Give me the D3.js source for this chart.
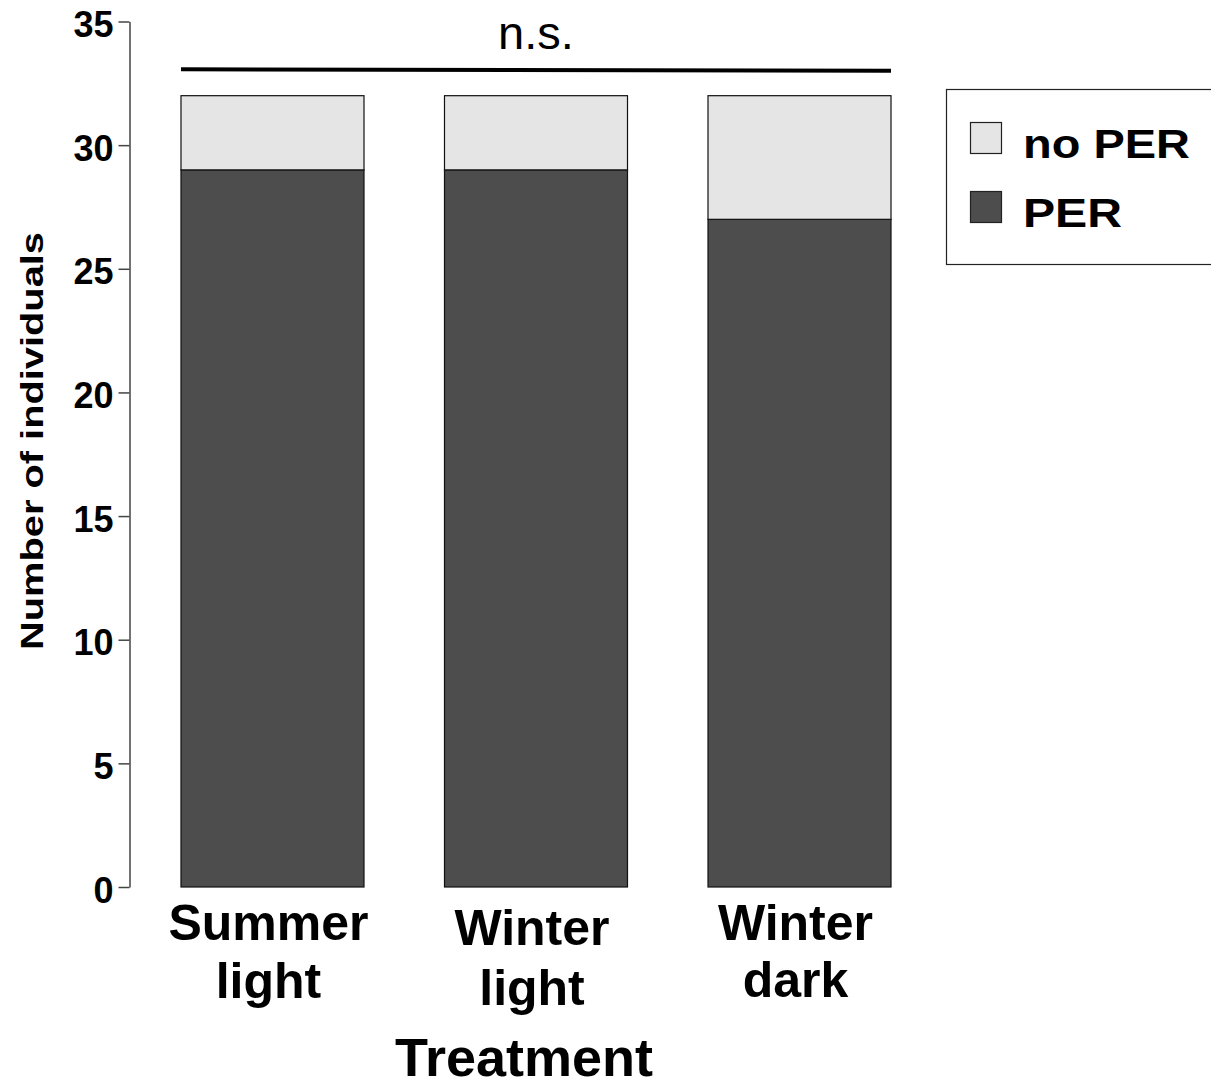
<!DOCTYPE html>
<html>
<head>
<meta charset="utf-8">
<script src="https://cdn.jsdelivr.net/npm/d3@7"></script>
<style>
  html, body { margin: 0; padding: 0; background: #fff; }
  svg { display: block; font-family: Arial, "Liberation Sans", Helvetica, sans-serif; }
</style>
</head>
<body>
<svg id="chart" width="1211" height="1088"></svg>
<script>
// ---- data ----
const categories = ["Summer light", "Winter light", "Winter dark"];
const categoryLines = [["Summer", "light"], ["Winter", "light"], ["Winter", "dark"]];
const perValues = [29, 29, 27];
const noPerValues = [3, 3, 5];
const seriesNames = ["no PER", "PER"];
const yTicks = [0, 5, 10, 15, 20, 25, 30, 35];
const sigLabel = "n.s.";
const xTitle = "Treatment";
const yTitle = "Number of individuals";

// ---- styling ----
const colors = { "PER": "#4d4d4d", "no PER": "#e5e5e5" };
const svg = d3.select("#chart");

const x = d3.scaleBand()
  .domain(categories)
  .range([129.5, 942.5])
  .paddingInner(0.3055)
  .paddingOuter(0.1954);

const y = d3.scaleLinear().domain([0, 35]).range([887, 21.5]);

// stacked data
const rows = categories.map((c, i) => ({ cat: c, "PER": perValues[i], "no PER": noPerValues[i] }));
const stack = d3.stack().keys(["PER", "no PER"]);
const layers = stack(rows);

svg.append("g").selectAll("g")
  .data(layers)
  .join("g")
  .attr("fill", d => colors[d.key])
  .selectAll("rect")
  .data(d => d)
  .join("rect")
  .attr("x", d => x(d.data.cat))
  .attr("y", d => y(d[1]))
  .attr("width", x.bandwidth())
  .attr("height", d => y(d[0]) - y(d[1]))
  .attr("stroke", "#111")
  .attr("stroke-width", 1.2);

// y axis
const yAxis = d3.axisLeft(y).tickValues(yTicks).tickSize(11).tickPadding(5).tickSizeOuter(0);
const gy = svg.append("g").attr("transform", "translate(129.5,0)").call(yAxis);
gy.select(".domain").attr("stroke", "#444").attr("stroke-width", 1.5);
gy.selectAll(".tick line").attr("stroke", "#444").attr("stroke-width", 1.5);
gy.selectAll(".tick text")
  .attr("font-size", 36)
  .attr("font-weight", "bold")
  .attr("fill", "#000")
  .attr("font-family", "Arial, 'Liberation Sans', sans-serif")
  .attr("dy", "0.42em")
  .attr("x", -16);

// category labels
const baselines = [[940, 998], [945, 1005], [940, 997]];
categories.forEach((c, i) => {
  const cx = x(c) + x.bandwidth() / 2;
  categoryLines[i].forEach((line, j) => {
    svg.append("text")
      .attr("x", cx - 4)
      .attr("y", baselines[i][j])
      .attr("text-anchor", "middle")
      .attr("font-size", 50)
      .attr("font-weight", "bold")
      .text(line);
  });
});

// x title
svg.append("text")
  .attr("x", 524)
  .attr("y", 1076)
  .attr("text-anchor", "middle")
  .attr("font-size", 54)
  .attr("font-weight", "bold")
  .text(xTitle);

// y title
svg.append("text")
  .attr("transform", "translate(43,441) rotate(-90)")
  .attr("text-anchor", "middle")
  .attr("font-size", 31)
  .attr("font-weight", "bold")
  .attr("textLength", 418)
  .attr("lengthAdjust", "spacingAndGlyphs")
  .text(yTitle);

// significance line
svg.append("line")
  .attr("x1", x(categories[0]))
  .attr("x2", x(categories[2]) + x.bandwidth())
  .attr("y1", 69.3)
  .attr("y2", 70.7)
  .attr("stroke", "#000")
  .attr("stroke-width", 4);
svg.append("text")
  .attr("x", 536)
  .attr("y", 49)
  .attr("text-anchor", "middle")
  .attr("font-size", 47)
  .text(sigLabel);

// legend
const lg = svg.append("g");
lg.append("rect")
  .attr("x", 946.5).attr("y", 89.5)
  .attr("width", 300).attr("height", 175)
  .attr("fill", "#fff").attr("stroke", "#222").attr("stroke-width", 1.2);
const legendY = [122, 191];
const legendBase = [158, 227];
const legendLen = [167, 99];
seriesNames.forEach((s, i) => {
  lg.append("rect")
    .attr("x", 970.5).attr("y", legendY[i] + 0.5)
    .attr("width", 31).attr("height", 31)
    .attr("fill", colors[s]).attr("stroke", "#222").attr("stroke-width", 1.2);
  lg.append("text")
    .attr("x", 1023).attr("y", legendBase[i])
    .attr("font-size", 40).attr("font-weight", "bold")
    .attr("textLength", legendLen[i])
    .attr("lengthAdjust", "spacingAndGlyphs")
    .text(s);
});
</script>
</body>
</html>
